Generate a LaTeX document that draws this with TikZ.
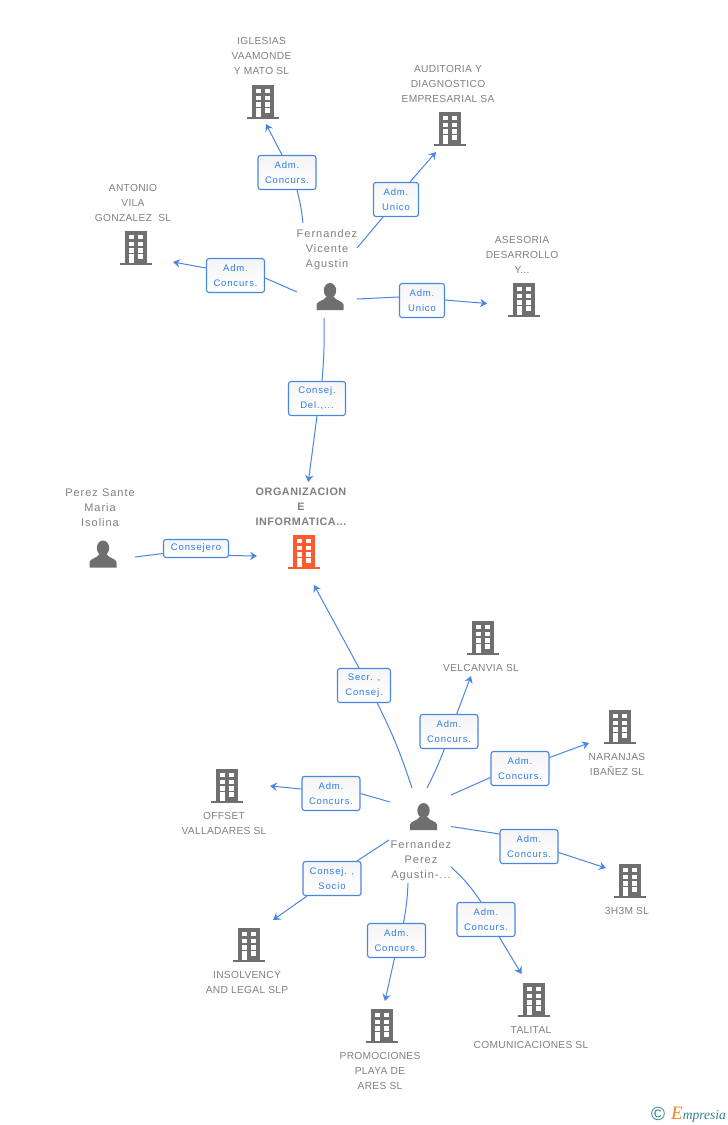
\documentclass[tikz,border=0pt]{standalone}
\usepackage{fontspec}
\usepackage{xcolor}
\usepackage{tikz}
\usetikzlibrary{arrows.meta}
\setmainfont{Liberation Sans}
\newfontfamily\namefont[LetterSpace=9]{Liberation Sans}
\newfontfamily\firmfont[LetterSpace=3]{Liberation Sans}
\newfontfamily\mainfirmfont[LetterSpace=5]{Liberation Sans Bold}
\newfontfamily\tagfont[LetterSpace=9]{Liberation Sans}
\newfontfamily\logofont{Liberation Serif Italic}
\definecolor{linkblue}{HTML}{4A86E0}
\definecolor{tagblue}{HTML}{2F7BE6}
\definecolor{icongray}{HTML}{6F6F6F}
\definecolor{textgray}{HTML}{7F7F7F}
\definecolor{mainorange}{HTML}{FF5A2B}
\definecolor{logoteal}{HTML}{2F7F93}
\definecolor{logoorange}{HTML}{F58220}
\tikzset{
  building/.pic={
    \fill[pic actions] (-11,-17) rectangle (11,15);
    \fill[pic actions] (-16,15) rectangle (16,17);
    \fill[white] (-7.3,-13) rectangle (-2.3,-8.7);
    \fill[white] (2.3,-13) rectangle (7.3,-8.7);
    \fill[white] (-7.3,-6.3) rectangle (-2.3,-2);
    \fill[white] (2.3,-6.3) rectangle (7.3,-2);
    \fill[white] (-7.3,0.3) rectangle (-2.3,4.7);
    \fill[white] (2.3,0.3) rectangle (7.3,4.7);
    \fill[white] (-7.3,6.3) rectangle (-2.3,15);
    \fill[white] (2.3,6.3) rectangle (7.3,11);
  },
  person/.pic={
    \fill[icongray] (0,-6) ellipse (6.2 and 7.5);
    \fill[icongray] (-13.5,13.5) -- (-13.5,8) .. controls (-13,4.5) and (-6,4.5) .. (-3.5,0)
      -- (3.5,0) .. controls (6,4.5) and (13,4.5) .. (13.5,8) -- (13.5,13.5) -- cycle;
  },
  tagbox/.style={draw=linkblue, line width=1.1pt, rounded corners=2.5pt, top color=black!4, bottom color=white, text=tagblue,
    font=\tagfont\fontsize{9.5}{15}\selectfont, align=center, inner sep=0pt,
    minimum height=34pt},
  firmlabel/.style={text=textgray, font=\firmfont\fontsize{10.2}{15}\selectfont, align=center, inner sep=0pt},
  personlabel/.style={text=textgray, font=\namefont\fontsize{11}{15}\selectfont, align=center, inner sep=0pt, yshift=-1.5pt},
  link/.style={draw=linkblue, line width=1pt},
  linkto/.style={link, -{Stealth[length=7pt,width=8.5pt,inset=2.5pt]}}
}
\begin{document}
\begin{tikzpicture}[x=1pt,y=-1pt]
  \useasboundingbox (0,0) rectangle (728,1125);
  % people
  \pic at (330,296.5) {person};
  \pic at (103,554) {person};
  \pic at (423.5,816.5) {person};
  \node[personlabel] (vicente) at (327,248) {Fernandez\\Vicente\\Agustin};
  \node[personlabel] (isolina) at (100,506.5) {Perez Sante\\Maria\\Isolina};
  \node[personlabel] (agustin) at (421,859) {Fernandez\\Perez\\Agustin-...};
  % companies
  \pic[icongray] at (263,102) {building};
  \pic[icongray] at (450,129) {building};
  \pic[icongray] at (136,248) {building};
  \pic[icongray] at (524,300) {building};
  \pic[mainorange] at (304,552) {building};
  \pic[icongray] at (483,638) {building};
  \pic[icongray] at (620,727) {building};
  \pic[icongray] at (227,786) {building};
  \pic[icongray] at (630,881) {building};
  \pic[icongray] at (249,945) {building};
  \pic[icongray] at (382,1026) {building};
  \pic[icongray] at (534,1000) {building};
  \node[firmlabel] (iglesias) at (261.5,56) {IGLESIAS\\VAAMONDE\\Y MATO SL};
  \node[firmlabel] (auditoria) at (448,84) {AUDITORIA Y\\DIAGNOSTICO\\EMPRESARIAL SA};
  \node[firmlabel] (antonio) at (133,203) {ANTONIO\\VILA\\GONZALEZ\ \ SL};
  \node[firmlabel] (asesoria) at (522,255) {ASESORIA\\DESARROLLO\\Y...};
  \node[text=textgray, font=\mainfirmfont\fontsize{10.8}{15}\selectfont, align=center, inner sep=0pt] (org) at (301,507) {ORGANIZACION\\E\\INFORMATICA...};
  \node[firmlabel] (velcanvia) at (481,668) {VELCANVIA SL};
  \node[firmlabel] (naranjas) at (617,764.5) {NARANJAS\\IBAÑEZ SL};
  \node[firmlabel] (offset) at (224,823.5) {OFFSET\\VALLADARES SL};
  \node[firmlabel] (h3m) at (627,911) {3H3M SL};
  \node[firmlabel] (insolvency) at (247,982.5) {INSOLVENCY\\AND LEGAL SLP};
  \node[firmlabel] (promociones) at (380,1071) {PROMOCIONES\\PLAYA DE\\ARES SL};
  \node[firmlabel] (talital) at (531,1037.5) {TALITAL\\COMUNICACIONES SL};
  % tags
  \node[tagbox, minimum width=58pt] (t1) at (287,172.5) {Adm.\\Concurs.};
  \node[tagbox, minimum width=45pt] (t2) at (396,199.5) {Adm.\\Unico};
  \node[tagbox, minimum width=58pt] (t3) at (235.5,275.5) {Adm.\\Concurs.};
  \node[tagbox, minimum width=45pt] (t4) at (422,300.5) {Adm.\\Unico};
  \node[tagbox, minimum width=57pt] (t5) at (317,398.5) {Consej.\\Del.,...};
  \node[tagbox, minimum width=65pt, minimum height=18pt] (t6) at (196,548.5) {Consejero};
  \node[tagbox, minimum width=53pt] (t7) at (364,685.5) {Secr. ,\\Consej.};
  \node[tagbox, minimum width=58pt] (t8) at (449,731.5) {Adm.\\Concurs.};
  \node[tagbox, minimum width=58pt] (t9) at (520,768.5) {Adm.\\Concurs.};
  \node[tagbox, minimum width=58pt] (t10) at (331,793.5) {Adm.\\Concurs.};
  \node[tagbox, minimum width=58pt] (t11) at (529,846.5) {Adm.\\Concurs.};
  \node[tagbox, minimum width=58pt] (t12) at (486,919.5) {Adm.\\Concurs.};
  \node[tagbox, minimum width=58pt] (t13) at (396.5,940.5) {Adm.\\Concurs.};
  \node[tagbox, minimum width=58pt] (t14) at (332,878.5) {Consej. ,\\Socio};
  % free ends
  \coordinate (s1) at (303,223);
  \coordinate (e1) at (266,124);
  \coordinate (s2) at (357,248);
  \coordinate (e2) at (436,152);
  \coordinate (s3) at (297,292);
  \coordinate (e3) at (173,262);
  \coordinate (s4) at (357,299);
  \coordinate (e4) at (487,303.5);
  \coordinate (s5) at (324,318);
  \coordinate (e5) at (308.3,482);
  \coordinate (s6) at (135,557);
  \coordinate (e6) at (257,556);
  \coordinate (s7) at (412,788);
  \coordinate (e7) at (314,585);
  \coordinate (s8) at (427,788);
  \coordinate (e8) at (471,676);
  \coordinate (s9) at (451,795);
  \coordinate (e9) at (589,743);
  \coordinate (s10) at (390,802);
  \coordinate (e10) at (270,786);
  \coordinate (s11) at (451,826.5);
  \coordinate (e11) at (606,868);
  \coordinate (s12) at (451,867);
  \coordinate (e12) at (521.5,974);
  \coordinate (s13) at (408,883);
  \coordinate (e13) at (385,1001);
  \coordinate (s14) at (389,840);
  \coordinate (e14) at (273,920);
  % links
  \path[link] (s1) to[bend right=4] ([xshift=10pt]t1.south);
  \path[linkto] ([xshift=-5pt]t1.north) -- (e1);
  \path[link] (s2) -- ([xshift=-13pt]t2.south);
  \path[linkto] ([xshift=14pt]t2.north) -- (e2);
  \path[link] (s3) -- ([yshift=-2.5pt]t3.east);
  \path[linkto] ([yshift=7.5pt]t3.west) -- (e3);
  \path[link] (s4) -- ([yshift=3.5pt]t4.west);
  \path[linkto] ([yshift=0.5pt]t4.east) -- (e4);
  \path[link] (s5) to[bend left=3] ([xshift=5pt]t5.north);
  \path[linkto] (t5.south) -- (e5);
  \path[link] (s6) -- ([yshift=-5pt]t6.west);
  \path[linkto] ([yshift=-7pt]t6.east) -- (e6);
  \path[link] (s7) to[bend right=4] ([xshift=13.3pt]t7.south);
  \path[linkto] ([xshift=-5pt]t7.north) -- (e7);
  \path[link] (s8) to[bend right=3] ([xshift=-4.7pt]t8.south);
  \path[linkto] ([xshift=7.7pt]t8.north) -- (e8);
  \path[link] (s9) -- ([yshift=-9pt]t9.west);
  \path[linkto] ([yshift=11pt]t9.east) -- (e9);
  \path[link] (s10) -- (t10.east);
  \path[linkto] ([yshift=4.5pt]t10.west) -- (e10);
  \path[link] (s11) -- ([yshift=12.5pt]t11.west);
  \path[linkto] ([yshift=-6pt]t11.east) -- (e11);
  \path[link] (s12) to[bend left=7] ([xshift=-5pt]t12.north);
  \path[linkto] ([xshift=13.3pt]t12.south) -- (e12);
  \path[link] (s13) to[bend left=4] ([xshift=7pt]t13.north);
  \path[linkto] ([xshift=-2pt]t13.south) -- (e13);
  \path[link] (s14) -- ([xshift=25pt]t14.north);
  \path[linkto] ([xshift=-25pt]t14.south) -- (e14);
  % logo
  \node[text=logoteal, font=\fontsize{19}{19}\selectfont, inner sep=0pt] (copy) at (658,1114) {©};
  \node[anchor=east, inner sep=0pt, font=\logofont\fontsize{13.5}{15}\selectfont, text=logoteal] (brand) at (726,1114.5)
    {\textcolor{logoorange}{\fontsize{19}{15}\selectfont E}mpresia};
\end{tikzpicture}
\end{document}
